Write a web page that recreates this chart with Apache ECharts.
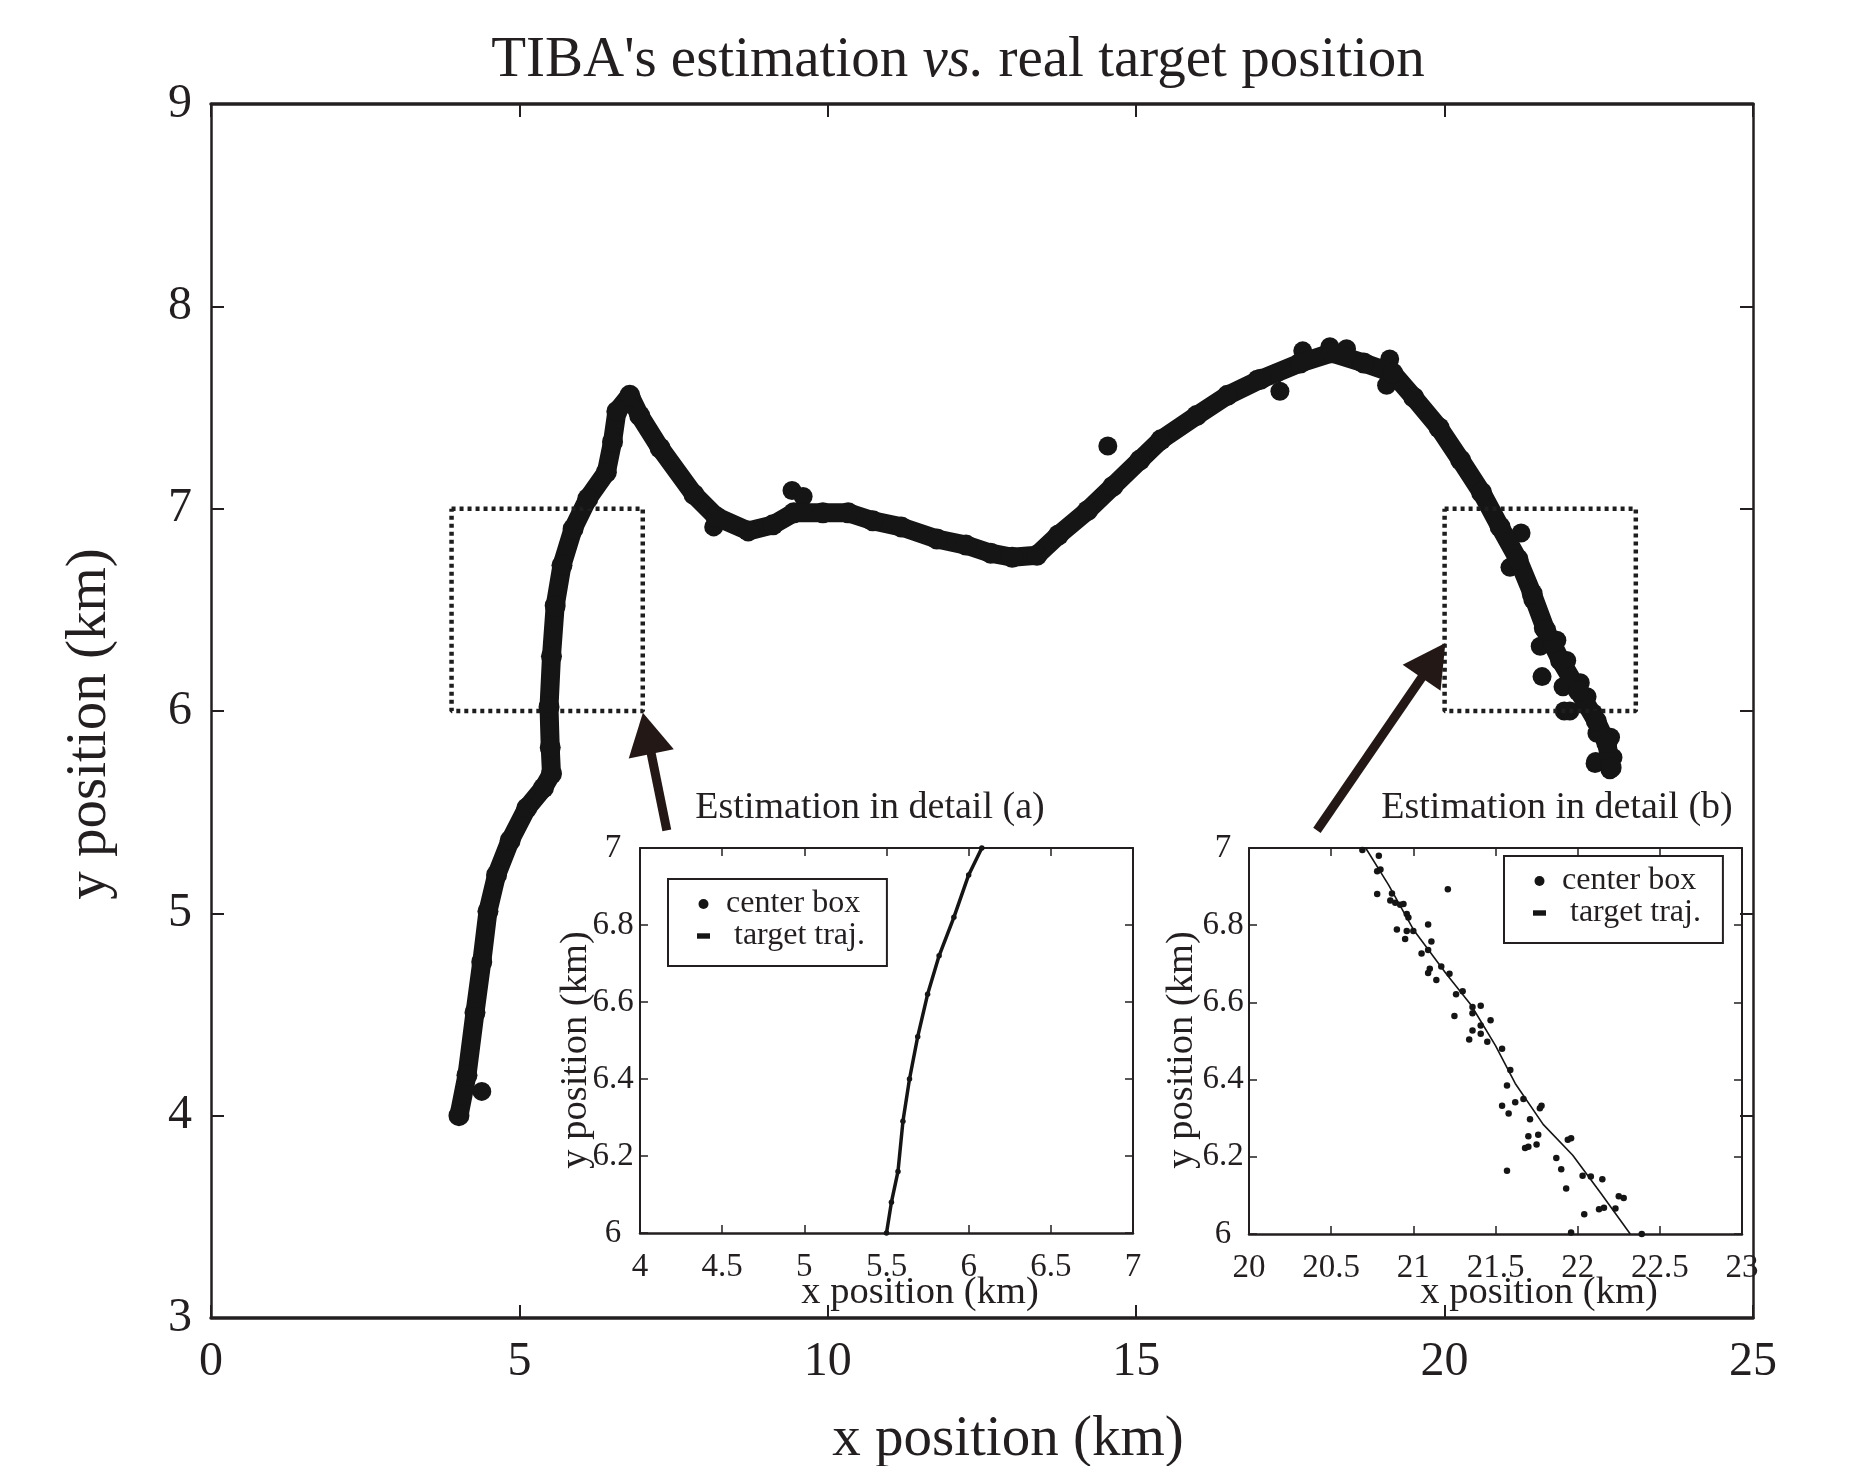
<!DOCTYPE html>
<html>
<head>
<meta charset="utf-8">
<script src="https://cdn.jsdelivr.net/npm/echarts@6/dist/echarts.min.js"></script>
<style>html,body{margin:0;padding:0;background:#fff}#c{width:1854px;height:1466px}</style>
</head>
<body>
<div id="c"></div>
<script>
// ---------- data ----------
const mainXTicks = [0, 5, 10, 15, 20, 25];
const mainYTicks = [3, 4, 5, 6, 7, 8, 9];
const insetAXTicks = [4, 4.5, 5, 5.5, 6, 6.5, 7];
const insetBXTicks = [20, 20.5, 21, 21.5, 22, 22.5, 23];
const insetYTicks = [6, 6.2, 6.4, 6.6, 6.8, 7];

// estimated track of the full scenario (center of the dotted band)
const mainTrack = [
  [4.02,4.00],[4.15,4.20],[4.28,4.51],[4.39,4.76],[4.49,5.01],[4.63,5.19],[4.85,5.36],
  [5.12,5.52],[5.39,5.62],[5.52,5.69],[5.50,5.82],[5.48,6.02],[5.52,6.27],[5.58,6.52],
  [5.69,6.72],[5.87,6.90],[6.11,7.05],[6.41,7.18],[6.51,7.33],[6.58,7.48],[6.79,7.56],
  [6.95,7.46],[7.28,7.30],[7.83,7.07],[8.19,6.96],[8.71,6.89],[9.11,6.92],[9.45,6.98],
  [9.92,6.98],[10.33,6.98],[10.73,6.94],[11.19,6.91],[11.77,6.85],[12.24,6.82],[12.64,6.78],
  [12.99,6.76],[13.39,6.77],[13.74,6.87],[14.21,6.99],[14.62,7.11],[15.06,7.24],[15.40,7.34],
  [15.98,7.46],[16.48,7.56],[17.02,7.64],[17.66,7.72],[18.17,7.77],[18.69,7.72],[19.16,7.67],
  [19.50,7.55],[19.91,7.40],[20.26,7.24],[20.60,7.08],[20.90,6.91],[21.19,6.75],[21.42,6.58],
  [21.64,6.40],[21.88,6.25],[22.17,6.10],[22.46,5.95],[22.63,5.84],[22.70,5.72]
];
// individual estimates off the band centre
const mainDots = [
  [4.39,4.12],[8.15,6.91],[9.42,7.09],[9.60,7.06],[14.54,7.31],[21.24,6.88],[21.58,6.17],
  [21.94,6.00],[22.44,5.74],[16.96,7.64],[17.28,7.67],[17.33,7.58],[17.70,7.78],[18.14,7.80],
  [18.41,7.79],[19.11,7.74],[19.06,7.61],[21.06,6.71],[21.43,6.55],[21.60,6.41],[21.55,6.32],
  [21.82,6.35],[21.98,6.25],[21.92,6.12],[22.20,6.14],[22.03,6.00],[22.31,6.07],[22.41,5.99],
  [22.47,5.89],[22.69,5.87],[22.73,5.77],[22.45,5.75],[22.68,5.71]
];
// zoom boxes [xMin, xMax, yMin, yMax]
const boxA = [3.9, 7, 6, 7];
const boxB = [20, 23.1, 6, 7];
// arrows: [tail, head-center]
const arrowA = [[7.39,5.41],[7.07,5.89]];
const arrowB = [[17.93,5.41],[19.82,6.25]];

// inset (a)
const insetATrack = [
  [5.50,6.00],[5.53,6.08],[5.57,6.16],[5.60,6.29],[5.64,6.40],[5.69,6.51],
  [5.75,6.62],[5.82,6.72],[5.91,6.82],[6.00,6.93],[6.08,7.00]
];
// inset (b)
const insetBTraj = [
  [20.71,7.0],[20.85,6.904],[21.0,6.789],[21.2,6.674],[21.35,6.594],[21.5,6.488],
  [21.62,6.39],[21.79,6.284],[21.97,6.204],[22.14,6.106],[22.32,6.0]
];
const insetBDots = [
  [20.69,6.995],[20.79,6.98],[20.78,6.94],[20.80,6.944],[20.78,6.881],[20.87,6.882],
  [20.86,6.864],[20.89,6.858],[20.92,6.853],[20.94,6.855],[21.21,6.893],[20.96,6.829],
  [20.97,6.82],[21.09,6.802],[20.90,6.789],[20.96,6.785],[21.0,6.785],[20.95,6.764],
  [21.11,6.758],[21.09,6.736],[21.05,6.727],[21.17,6.693],[21.10,6.687],[21.09,6.676],
  [21.22,6.674],[21.14,6.658],[21.26,6.621],[21.30,6.629],[21.36,6.588],[21.41,6.591],
  [21.25,6.565],[21.36,6.572],[21.47,6.554],[21.36,6.527],[21.41,6.54],[21.41,6.519],
  [21.34,6.504],[21.45,6.498],[21.54,6.48],[21.59,6.425],[21.57,6.385],[21.54,6.332],
  [21.62,6.341],[21.58,6.312],[21.67,6.35],[21.78,6.332],[21.77,6.326],[21.71,6.297],
  [21.70,6.253],[21.76,6.257],[21.68,6.223],[21.70,6.226],[21.75,6.232],[21.94,6.244],
  [21.96,6.248],[21.57,6.164],[21.87,6.197],[21.90,6.168],[21.93,6.118],[22.03,6.151],
  [22.08,6.149],[22.15,6.142],[22.04,6.051],[22.13,6.064],[22.16,6.068],[22.23,6.066],
  [22.25,6.098],[22.28,6.093],[21.96,6.004],[22.39,6.0]
];

// ---------- styling ----------
const ink = '#231f20';
const dot = '#151515';
const serif = 'Liberation Serif';

function boxPath(b) {
  return [[b[0],b[3]],[b[1],b[3]],[b[1],b[2]],[b[0],b[2]],[b[0],b[3]]];
}
function fmt(v) { return String(Math.round(v * 10) / 10); }
function axis(grid, pos, ticks, o) {
  return {
    type: 'value', gridIndex: grid, position: pos,
    min: ticks[0], max: ticks[ticks.length - 1], interval: ticks[1] - ticks[0],
    axisLine: { show: true, onZero: false, lineStyle: { color: ink, width: o.lineW } },
    axisTick: { show: true, inside: true, length: o.tickL, lineStyle: { color: ink, width: o.tickW } },
    axisLabel: Object.assign({ show: o.labels, fontFamily: serif, fontSize: o.fs, color: ink, margin: o.margin,
      showMinLabel: true, showMaxLabel: true, formatter: fmt }, o.labelExtra || {}),
    splitLine: { show: false }
  };
}

const mainO = { tickL: 13, tickW: 2, fs: 48 };
const insO = { tickL: 8, tickW: 1.5, fs: 33 };

const xAxes = [
  axis(0, 'bottom', mainXTicks, Object.assign({}, mainO, { labels: true, lineW: 3.5, margin: 20 })),
  axis(0, 'top', mainXTicks, Object.assign({}, mainO, { labels: false, lineW: 3.5, margin: 8 })),
  axis(1, 'bottom', insetAXTicks, Object.assign({}, insO, { labels: true, lineW: 2.5, margin: 18 })),
  axis(1, 'top', insetAXTicks, Object.assign({}, insO, { labels: false, lineW: 2, margin: 8 })),
  axis(2, 'bottom', insetBXTicks, Object.assign({}, insO, { labels: true, lineW: 2.5, margin: 18 })),
  axis(2, 'top', insetBXTicks, Object.assign({}, insO, { labels: false, lineW: 2, margin: 8 }))
];
const yAxes = [
  axis(0, 'left', mainYTicks, Object.assign({}, mainO, { labels: true, lineW: 2.5, margin: 31,
    labelExtra: { align: 'center', padding: [12, 0, 0, 0] } })),
  axis(0, 'right', mainYTicks, Object.assign({}, mainO, { labels: false, lineW: 2.5, margin: 8 })),
  axis(1, 'left', insetYTicks, Object.assign({}, insO, { labels: true, lineW: 2, margin: 27,
    labelExtra: { align: 'center' } })),
  axis(1, 'right', insetYTicks, Object.assign({}, insO, { labels: false, lineW: 2, margin: 8 })),
  axis(2, 'left', insetYTicks, Object.assign({}, insO, { labels: true, lineW: 2, margin: 26,
    labelExtra: { align: 'center' } })),
  axis(2, 'right', insetYTicks, Object.assign({}, insO, { labels: false, lineW: 2, margin: 8 }))
];

function legendAt(left, top) {
  return {
    left: left, top: top, orient: 'vertical', selectedMode: false,
    itemWidth: 13, itemHeight: 10, itemGap: 0,
    padding: [9, 22, 14, 29], borderColor: ink, borderWidth: 2, backgroundColor: '#fff',
    textStyle: { fontFamily: serif, fontSize: 32, color: ink, padding: [0, 0, 0, 11] },
    formatter: function (n) { return n === 'target traj.' ? ' ' + n : n; },
    data: [ { name: 'center box', icon: 'circle' },
            { name: 'target traj.', icon: 'path://M0,0h12v5h-12z' } ]
  };
}

function txt(x, y, s, fs, rot) {
  return { type: 'text', x: x, y: y, rotation: rot || 0, silent: true,
    style: { text: s, fontFamily: serif, fontSize: fs, fill: ink, align: 'center', verticalAlign: 'middle' } };
}

const option = {
  animation: false,
  backgroundColor: '#fff',
  grid: [
    { left: 211, top: 104, width: 1542, height: 1214, outerBoundsMode: 'none' },
    { left: 640, top: 848, width: 493, height: 385, outerBoundsMode: 'none' },
    { left: 1249, top: 848, width: 493, height: 386, outerBoundsMode: 'none' }
  ],
  xAxis: xAxes,
  yAxis: yAxes,
  legend: [ legendAt(668, 879), legendAt(1504, 856) ],
  graphic: [
    { type: 'text', x: 958, y: 61, silent: true,
      style: { text: "{n|TIBA's estimation }{i|vs.}{n| real target position}", align: 'center', verticalAlign: 'middle',
        rich: { n: { fontFamily: serif, fontSize: 57, fill: ink },
                i: { fontFamily: serif, fontSize: 57, fill: ink, fontStyle: 'italic' } } } },
    txt(1008, 1440, 'x position (km)', 57),
    txt(90, 724, 'y position (km)', 57, Math.PI / 2),
    txt(870, 808, 'Estimation in detail (a)', 38),
    txt(1557, 808, 'Estimation in detail (b)', 38),
    txt(920, 1293, 'x position (km)', 38.5),
    txt(1539, 1293, 'x position (km)', 38.5),
    txt(576, 1050, 'y position (km)', 38.5, Math.PI / 2),
    txt(1182, 1050, 'y position (km)', 38.5, Math.PI / 2)
  ],
  series: [
    { type: 'line', name: 'estimated track', xAxisIndex: 0, yAxisIndex: 0, data: mainTrack,
      symbol: 'circle', symbolSize: 21, showSymbol: true, showAllSymbol: true, silent: true,
      lineStyle: { color: dot, width: 19, cap: 'round', join: 'round' }, itemStyle: { color: dot, opacity: 1 } },
    { type: 'scatter', name: 'estimated dots', xAxisIndex: 0, yAxisIndex: 0, data: mainDots,
      symbol: 'circle', symbolSize: 19, silent: true, itemStyle: { color: dot, opacity: 1 } },
    { type: 'line', name: 'zoom box a', xAxisIndex: 0, yAxisIndex: 0, data: boxPath(boxA),
      symbol: 'none', silent: true,
      lineStyle: { color: '#1e1e1e', width: 4.5, type: [4, 4], cap: 'butt' },
      markLine: { silent: true, animation: false, symbol: ['none', 'triangle'], symbolSize: [46, 42],
        label: { show: false }, lineStyle: { color: '#231815', width: 9, type: 'solid' },
        itemStyle: { color: '#231815' },
        data: [ [ { coord: arrowA[0] }, { coord: arrowA[1] } ],
                [ { coord: arrowB[0] }, { coord: arrowB[1] } ] ] } },
    { type: 'line', name: 'zoom box b', xAxisIndex: 0, yAxisIndex: 0, data: boxPath(boxB),
      symbol: 'none', silent: true,
      lineStyle: { color: '#1e1e1e', width: 4.5, type: [4, 4], cap: 'butt' } },
    { type: 'line', name: 'target traj.', xAxisIndex: 2, yAxisIndex: 2, data: insetATrack,
      symbol: 'none', silent: true, lineStyle: { color: dot, width: 3.5 }, itemStyle: { color: dot } },
    { type: 'scatter', name: 'center box', xAxisIndex: 2, yAxisIndex: 2, data: insetATrack,
      symbol: 'circle', symbolSize: 5.5, silent: true, itemStyle: { color: dot, opacity: 1 } },
    { type: 'line', name: 'target traj.', xAxisIndex: 4, yAxisIndex: 4, data: insetBTraj,
      symbol: 'none', silent: true, lineStyle: { color: dot, width: 1.6 }, itemStyle: { color: dot } },
    { type: 'scatter', name: 'center box', xAxisIndex: 4, yAxisIndex: 4, data: insetBDots,
      symbol: 'circle', symbolSize: 6.5, silent: true, itemStyle: { color: dot, opacity: 1 } }
  ]
};

const chart = echarts.init(document.getElementById('c'), null, { renderer: 'canvas' });
chart.setOption(option);
</script>
</body>
</html>
